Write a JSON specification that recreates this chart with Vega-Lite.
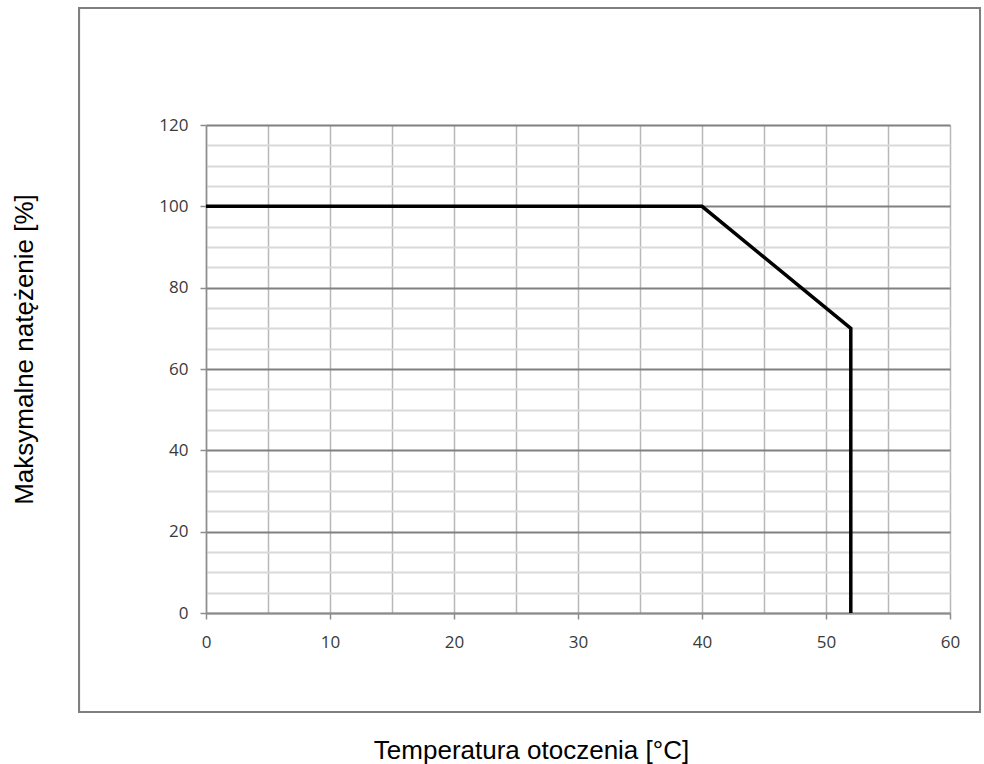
{
  "$schema": "https://vega.github.io/schema/vega-lite/v6.json",
  "autosize": {"type": "none"},
  "width": 744,
  "height": 488,
  "padding": {"left": 206, "top": 125, "right": 34, "bottom": 151},
  "background": "white",
  "config": {"view": {"stroke": null}},
  "data": {"values": [
    {"t": 0, "p": 100},
    {"t": 40, "p": 100},
    {"t": 52, "p": 70},
    {"t": 52, "p": 0}
  ]},
  "layer": [
    {
      "mark": {"type": "rect", "fill": null, "stroke": "#7f7f7f", "strokeWidth": 2},
      "encoding": {
        "x": {"datum": -10.24, "type": "quantitative", "scale": {"domain": [0, 60], "nice": false, "zero": false}},
        "x2": {"datum": 62.42},
        "y": {"datum": 148.8, "type": "quantitative", "scale": {"domain": [0, 120], "nice": false, "zero": false}},
        "y2": {"datum": -24.34}
      }
    },
    {
      "mark": {"type": "line", "color": "black", "strokeWidth": 3.5, "strokeJoin": "miter"},
      "encoding": {
        "x": {
          "field": "t", "type": "quantitative",
          "scale": {"domain": [0, 60], "nice": false, "zero": false},
          "axis": {
            "values": [0,5,10,15,20,25,30,35,40,45,50,55,60],
            "tickCount": 30,
            "labelExpr": "datum.value % 10 === 0 ? datum.label : ''",
            "tickOpacity": {"condition": {"test": "datum.value % 10 === 0", "value": 1}, "value": 0},
            "grid": true, "gridColor": "#b8b8b8", "gridWidth": 1.5,
            "domainColor": "#8c8c8c", "domainWidth": 1.5,
            "tickColor": "#8c8c8c", "tickSize": 6, "tickWidth": 1.5,
            "labelFlush": false,
            "labelPadding": 15, "labelFont": "Open Sans", "labelFontSize": 17, "labelColor": "#3a3a3a",
            "title": "Temperatura otoczenia [°C]",
            "titleFont": "Liberation Sans", "titleFontSize": 26, "titleFontWeight": "normal", "titleColor": "#000000",
            "titleX": 325, "titleY": 145, "titleAlign": "center", "titleBaseline": "alphabetic", "titleAnchor": null
          }
        },
        "y": {
          "field": "p", "type": "quantitative",
          "scale": {"domain": [0, 120], "nice": false, "zero": false},
          "axis": {
            "values": [0,5,10,15,20,25,30,35,40,45,50,55,60,65,70,75,80,85,90,95,100,105,110,115,120],
            "tickCount": 30,
            "labelExpr": "datum.value % 20 === 0 ? datum.label : ''",
            "tickOpacity": {"condition": {"test": "datum.value % 20 === 0", "value": 1}, "value": 0},
            "grid": true,
            "gridColor": {"condition": {"test": "datum.value % 20 === 0", "value": "#808080"}, "value": "#d9d9d9"},
            "gridWidth": 1.8,
            "domainColor": "#8c8c8c", "domainWidth": 1.5,
            "tickColor": "#8c8c8c", "tickSize": 6, "tickWidth": 1.5,
            "labelFlush": false,
            "labelPadding": 12, "labelFont": "Open Sans", "labelFontSize": 17, "labelColor": "#3a3a3a",
            "title": "Maksymalne natężenie [%]",
            "titleFont": "Liberation Sans", "titleFontSize": 26, "titleFontWeight": "normal", "titleColor": "#000000",
            "titleX": -174, "titleY": 224, "titleAngle": -90, "titleAlign": "center", "titleBaseline": "alphabetic", "titleAnchor": null
          }
        }
      }
    }
  ]
}
